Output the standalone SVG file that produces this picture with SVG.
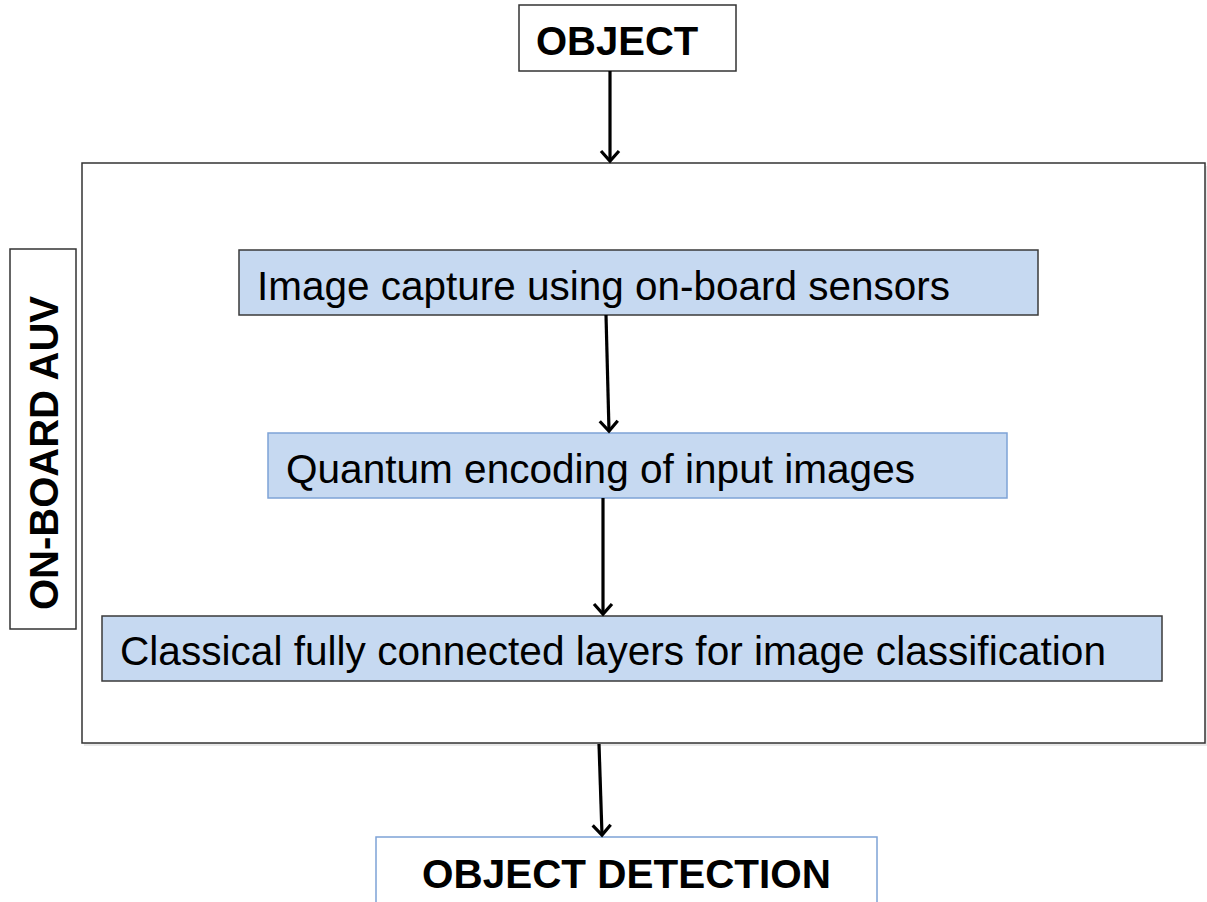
<svg xmlns="http://www.w3.org/2000/svg" width="1207" height="902" viewBox="0 0 1207 902">
<style>
.box{fill:#ffffff;stroke:#333333;stroke-width:1.5}
.proc{fill:#c6d9f1;stroke:#3a3a3a;stroke-width:1.5}
.procl{fill:#c6d9f1;stroke:#7ea3d6;stroke-width:1.5}
.outl{fill:#ffffff;stroke:#7ea3d6;stroke-width:1.5}
.bold{font-family:"Liberation Sans",Arial,sans-serif;font-weight:bold;font-size:40px;fill:#000}
.reg{font-family:"Liberation Sans",Arial,sans-serif;font-size:40.5px;fill:#000}
.conn{stroke:#000;stroke-width:3.2;fill:none;marker-end:url(#arr)}
</style>
<defs>
<marker id="arr" markerUnits="userSpaceOnUse" viewBox="-15 -13 18 26" markerWidth="18" markerHeight="26" refX="0" refY="0" orient="auto">
<path d="M-10,-9 L0,0 L-10,9" fill="none" stroke="#000" stroke-width="3.2" stroke-linejoin="miter"/>
</marker>
</defs>
<g id="onboard-container">
<rect x="84" y="166" width="1123" height="580" fill="#e8e8e8"/>
<rect class="box" x="82" y="163" width="1123" height="580"/>
</g>
<g id="object"><rect class="box" x="519" y="5" width="217" height="66"/><text class="bold" x="536" y="55">OBJECT</text></g>
<g id="onboard-auv"><rect class="box" x="10" y="249" width="66" height="380"/><text class="bold" transform="translate(58,453) rotate(-90)" text-anchor="middle">ON-BOARD AUV</text></g>
<g id="image-capture"><rect class="proc" x="239" y="250" width="799" height="65"/><text class="reg" x="257" y="300" textLength="693" lengthAdjust="spacingAndGlyphs">Image capture using on-board sensors</text></g>
<g id="quantum"><rect class="procl" x="268" y="433" width="739" height="65"/><text class="reg" x="286" y="483" textLength="629" lengthAdjust="spacingAndGlyphs">Quantum encoding of input images</text></g>
<g id="classical"><rect class="proc" x="102" y="616" width="1060" height="65"/><text class="reg" x="120" y="665" textLength="986" lengthAdjust="spacingAndGlyphs">Classical fully connected layers for image classification</text></g>
<g id="object-detection"><rect class="outl" x="376" y="837" width="501" height="80"/><text class="bold" x="422" y="888" textLength="409" lengthAdjust="spacingAndGlyphs">OBJECT DETECTION</text></g>
<g id="connectors">
<line class="conn" x1="610" y1="71" x2="610" y2="161"/>
<line class="conn" x1="606" y1="315" x2="609" y2="431"/>
<line class="conn" x1="603" y1="498" x2="603" y2="614"/>
<line class="conn" x1="599" y1="744" x2="602" y2="835"/>
</g>
</svg>
